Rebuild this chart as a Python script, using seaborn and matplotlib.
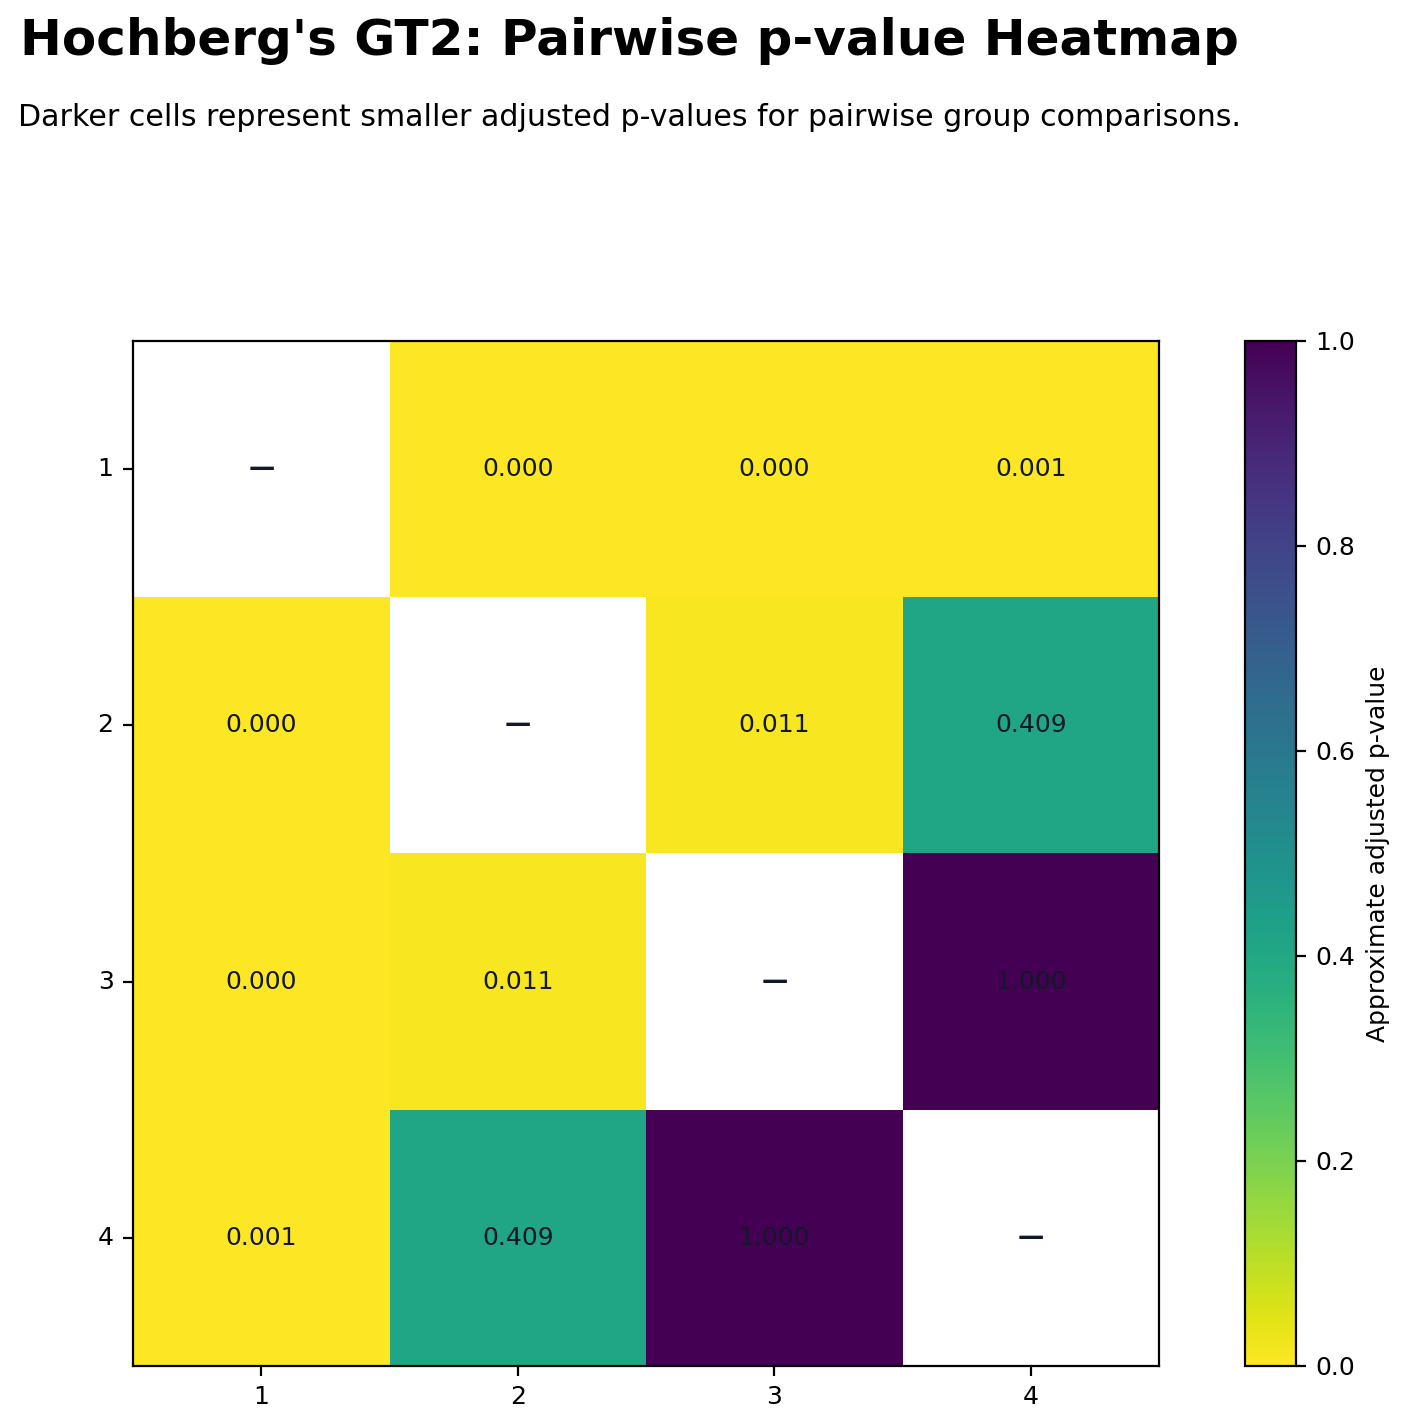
import numpy as np
import pandas as pd
import seaborn as sns
import matplotlib.pyplot as plt

# p-values ajustados (GT2 de Hochberg), diagonal vacía
groups = ["1", "2", "3", "4"]
row_1 = [np.nan, 0.000, 0.000, 0.001]
row_2 = [0.000, np.nan, 0.011, 0.409]
row_3 = [0.000, 0.011, np.nan, 1.000]
row_4 = [0.001, 0.409, 1.000, np.nan]

df = pd.DataFrame([row_1, row_2, row_3, row_4], index=groups, columns=groups)
mask = np.eye(len(groups), dtype=bool)

fig = plt.figure(figsize=(7.025, 7.13), dpi=200)
ax = fig.add_axes([0.0947, 0.0421, 0.7302, 0.7188])
cax = fig.add_axes([0.8861, 0.0421, 0.0363, 0.7188])

txt_color = "#111827"
sns.heatmap(df, mask=mask, cmap="viridis_r", vmin=0, vmax=1,
            annot=True, fmt=".3f", annot_kws={"color": txt_color, "fontsize": 9},
            ax=ax, cbar_ax=cax, square=False,
            cbar_kws={"label": "Approximate adjusted p-value"})

# guiones en la diagonal
for i in range(len(groups)):
    ax.text(i + 0.5, i + 0.5, "—", ha="center", va="center",
            color=txt_color, fontsize=9.5, fontweight="bold")

for sp in ax.spines.values():
    sp.set_visible(True)
    sp.set_color("black")
    sp.set_linewidth(0.8)
ax.tick_params(labelsize=9, length=3.5, width=0.8)
plt.setp(ax.get_yticklabels(), rotation=0)
plt.setp(ax.get_xticklabels(), rotation=0)
ax.set_xlabel("")
ax.set_ylabel("")

cbar = ax.collections[0].colorbar
cbar.outline.set_linewidth(0.8)
cbar.outline.set_edgecolor("black")
cbar.ax.tick_params(labelsize=9, length=3.5, width=0.8)
cbar.set_ticks([0, 0.2, 0.4, 0.6, 0.8, 1.0])
cbar.set_label("Approximate adjusted p-value", fontsize=9)

fig.text(0.0142, 0.971, "Hochberg's GT2: Pairwise p-value Heatmap",
         fontsize=18, fontweight="bold", ha="left", va="center")
fig.text(0.0128, 0.9175, "Darker cells represent smaller adjusted p-values for pairwise group comparisons.",
         fontsize=10.8, ha="left", va="center")

fig.savefig("out.png", dpi=200)
